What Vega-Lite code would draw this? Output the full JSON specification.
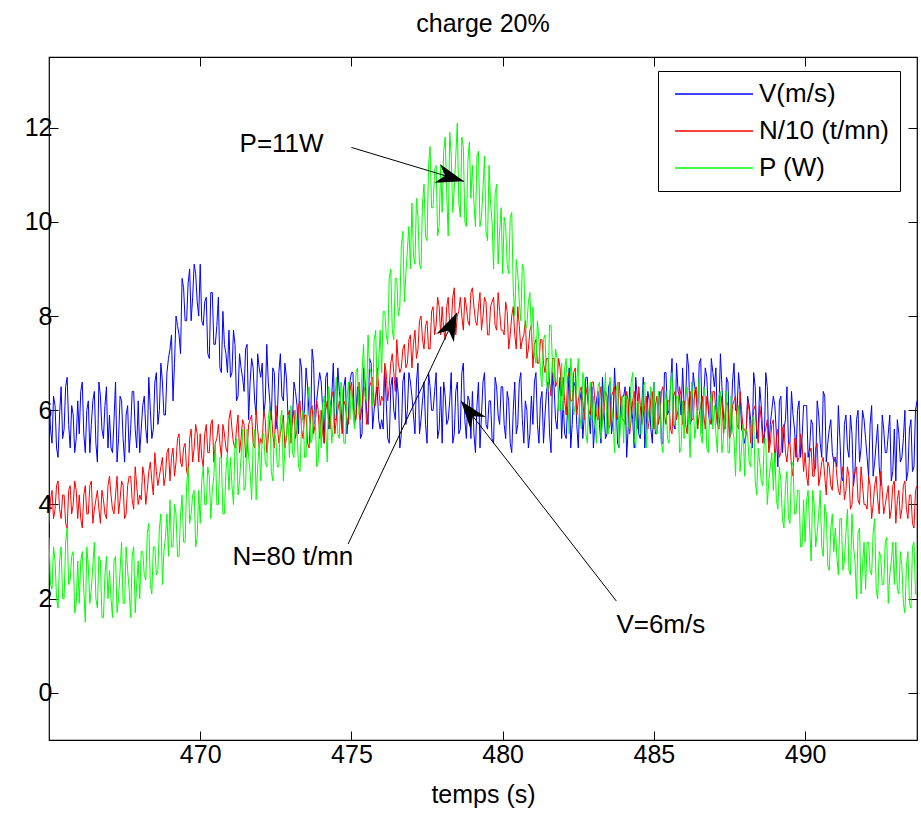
{
"$schema": "https://vega.github.io/schema/vega-lite/v6.json",
"autosize": "none",
"width": 868,
"height": 683,
"padding": {"left": 49, "top": 57, "right": 4, "bottom": 81},
"background": "white",
"title": {"text": "charge 20%", "font": "Liberation Sans", "fontSize": 25, "fontWeight": "normal", "color": "black", "offset": 20},
"config": {"view": {"stroke": "black", "strokeWidth": 1.2}},
"resolve": {"axis": {"x": "independent", "y": "independent"}},
"datasets": {
"s": [
{"t":465.0,"v":6.4,"n":3.6,"p":3.3},{"t":465.05,"v":5.6,"n":4.1,"p":2.3},{"t":465.1,"v":5.3,"n":4.3,"p":2.2},{"t":465.15,"v":6.3,"n":3.7,"p":3.1},{"t":465.2,"v":6.1,"n":3.9,"p":2.8},{"t":465.25,"v":5.2,"n":4.4,"p":2.0},{"t":465.3,"v":5.0,"n":4.5,"p":1.8},{"t":465.35,"v":5.9,"n":3.9,"p":2.8},{"t":465.4,"v":6.5,"n":3.7,"p":3.1},{"t":465.45,"v":5.4,"n":4.2,"p":2.0},{"t":465.5,"v":5.6,"n":4.2,"p":2.0},{"t":465.55,"v":6.5,"n":3.6,"p":3.2},{"t":465.6,"v":6.7,"n":3.5,"p":3.5},{"t":465.65,"v":5.7,"n":4.3,"p":2.3},{"t":465.7,"v":5.2,"n":4.4,"p":2.4},{"t":465.75,"v":6.1,"n":3.8,"p":2.9},{"t":465.8,"v":5.9,"n":4.0,"p":3.0},{"t":465.85,"v":5.1,"n":4.5,"p":1.7},{"t":465.9,"v":5.4,"n":4.3,"p":1.9},{"t":465.95,"v":6.2,"n":3.7,"p":2.8},
{"t":466.0,"v":5.5,"n":4.2,"p":1.9},{"t":466.05,"v":6.4,"n":3.7,"p":2.8},{"t":466.1,"v":6.6,"n":3.5,"p":3.0},{"t":466.15,"v":5.5,"n":4.2,"p":2.2},{"t":466.2,"v":5.1,"n":4.4,"p":1.5},{"t":466.25,"v":6.0,"n":3.8,"p":3.1},{"t":466.3,"v":6.2,"n":3.8,"p":2.7},{"t":466.35,"v":5.1,"n":4.4,"p":1.9},{"t":466.4,"v":5.7,"n":4.5,"p":2.2},{"t":466.45,"v":6.2,"n":3.6,"p":2.7},{"t":466.5,"v":6.4,"n":3.9,"p":3.2},{"t":466.55,"v":5.3,"n":4.1,"p":2.0},{"t":466.6,"v":4.9,"n":4.3,"p":1.8},{"t":466.65,"v":6.6,"n":3.9,"p":2.9},{"t":466.7,"v":6.3,"n":3.6,"p":2.8},{"t":466.75,"v":5.6,"n":4.3,"p":1.6},{"t":466.8,"v":5.4,"n":4.1,"p":1.6},{"t":466.85,"v":6.1,"n":3.8,"p":2.5},{"t":466.9,"v":6.5,"n":3.7,"p":2.9},{"t":466.95,"v":5.2,"n":4.4,"p":2.0},
{"t":467.0,"v":5.9,"n":4.6,"p":2.6},{"t":467.05,"v":5.2,"n":4.2,"p":2.0},{"t":467.1,"v":5.1,"n":3.9,"p":1.6},{"t":467.15,"v":5.8,"n":3.8,"p":2.8},{"t":467.2,"v":6.6,"n":4.2,"p":2.9},{"t":467.25,"v":4.9,"n":4.6,"p":1.7},{"t":467.3,"v":5.4,"n":3.8,"p":2.0},{"t":467.35,"v":6.3,"n":4.1,"p":2.6},{"t":467.4,"v":6.2,"n":4.5,"p":3.2},{"t":467.45,"v":5.4,"n":4.4,"p":1.9},{"t":467.5,"v":4.9,"n":3.7,"p":1.9},{"t":467.55,"v":5.9,"n":3.8,"p":3.1},{"t":467.6,"v":6.1,"n":4.4,"p":2.6},{"t":467.65,"v":5.1,"n":4.6,"p":2.2},{"t":467.7,"v":5.6,"n":4.6,"p":1.6},{"t":467.75,"v":6.4,"n":4.1,"p":2.9},{"t":467.8,"v":6.4,"n":3.9,"p":3.1},{"t":467.85,"v":5.6,"n":4.8,"p":1.7},{"t":467.9,"v":5.2,"n":4.4,"p":2.3},{"t":467.95,"v":6.2,"n":4.0,"p":2.8},
{"t":468.0,"v":5.1,"n":4.2,"p":2.0},{"t":468.05,"v":5.6,"n":4.1,"p":3.0},{"t":468.1,"v":6.1,"n":4.8,"p":3.0},{"t":468.15,"v":6.3,"n":4.6,"p":2.5},{"t":468.2,"v":5.6,"n":4.0,"p":2.4},{"t":468.25,"v":5.3,"n":4.3,"p":3.4},{"t":468.3,"v":6.7,"n":4.7,"p":3.6},{"t":468.35,"v":6.0,"n":4.9,"p":2.3},{"t":468.4,"v":5.4,"n":4.5,"p":2.1},{"t":468.45,"v":5.6,"n":4.2,"p":3.1},{"t":468.5,"v":6.6,"n":5.1,"p":3.1},{"t":468.55,"v":6.8,"n":4.7,"p":2.5},{"t":468.6,"v":5.7,"n":4.4,"p":2.6},{"t":468.65,"v":6.0,"n":4.6,"p":3.5},{"t":468.7,"v":7.0,"n":4.8,"p":3.8},{"t":468.75,"v":6.6,"n":5.0,"p":2.3},{"t":468.8,"v":5.9,"n":4.4,"p":3.0},{"t":468.85,"v":5.9,"n":4.6,"p":3.3},{"t":468.9,"v":6.8,"n":5.1,"p":3.8},{"t":468.95,"v":7.1,"n":5.2,"p":2.9},
{"t":469.0,"v":7.3,"n":4.5,"p":4.1},{"t":469.05,"v":7.6,"n":5.0,"p":3.1},{"t":469.1,"v":6.2,"n":5.2,"p":3.1},{"t":469.15,"v":7.0,"n":4.6,"p":4.0},{"t":469.2,"v":8.0,"n":4.9,"p":3.8},{"t":469.25,"v":7.8,"n":5.4,"p":2.9},{"t":469.3,"v":7.6,"n":5.5,"p":2.9},{"t":469.35,"v":7.2,"n":4.9,"p":3.8},{"t":469.4,"v":8.8,"n":4.8,"p":4.2},{"t":469.45,"v":8.6,"n":5.2,"p":3.2},{"t":469.5,"v":7.9,"n":5.3,"p":3.2},{"t":469.55,"v":7.9,"n":4.7,"p":4.4},{"t":469.6,"v":8.7,"n":4.6,"p":4.8},{"t":469.65,"v":9.0,"n":5.4,"p":3.6},{"t":469.7,"v":7.9,"n":5.6,"p":3.8},{"t":469.75,"v":8.4,"n":4.9,"p":4.2},{"t":469.8,"v":9.1,"n":5.2,"p":4.3},{"t":469.85,"v":8.9,"n":5.7,"p":3.1},{"t":469.9,"v":8.3,"n":5.5,"p":3.3},{"t":469.95,"v":8.0,"n":4.9,"p":4.3},
{"t":470.0,"v":9.1,"n":5.5,"p":3.6},{"t":470.05,"v":7.9,"n":5.0,"p":4.5},{"t":470.1,"v":7.8,"n":4.8,"p":4.8},{"t":470.15,"v":8.3,"n":5.5,"p":4.0},{"t":470.2,"v":8.4,"n":5.7,"p":4.0},{"t":470.25,"v":7.2,"n":5.1,"p":4.8},{"t":470.3,"v":7.1,"n":5.1,"p":4.6},{"t":470.35,"v":8.5,"n":5.7,"p":3.7},{"t":470.4,"v":8.5,"n":5.8,"p":4.3},{"t":470.45,"v":7.4,"n":4.9,"p":4.6},{"t":470.5,"v":7.4,"n":5.3,"p":5.3},{"t":470.55,"v":7.8,"n":5.4,"p":4.0},{"t":470.6,"v":8.4,"n":5.7,"p":4.0},{"t":470.65,"v":6.9,"n":5.3,"p":5.0},{"t":470.7,"v":6.8,"n":5.0,"p":5.0},{"t":470.75,"v":8.1,"n":5.7,"p":3.8},{"t":470.8,"v":7.4,"n":5.5,"p":3.8},{"t":470.85,"v":7.2,"n":5.2,"p":4.7},{"t":470.9,"v":6.8,"n":5.1,"p":5.1},{"t":470.95,"v":7.7,"n":5.8,"p":4.3},
{"t":471.0,"v":6.7,"n":6.0,"p":5.0},{"t":471.05,"v":6.8,"n":5.6,"p":4.4},{"t":471.1,"v":7.7,"n":5.3,"p":4.0},{"t":471.15,"v":7.4,"n":5.2,"p":5.3},{"t":471.2,"v":6.2,"n":5.6,"p":5.4},{"t":471.25,"v":6.3,"n":5.9,"p":4.2},{"t":471.3,"v":7.2,"n":5.1,"p":4.5},{"t":471.35,"v":6.9,"n":5.4,"p":5.0},{"t":471.4,"v":6.7,"n":5.8,"p":5.6},{"t":471.45,"v":6.4,"n":5.7,"p":4.3},{"t":471.5,"v":7.3,"n":5.0,"p":4.4},{"t":471.55,"v":7.4,"n":5.1,"p":5.6},{"t":471.6,"v":5.8,"n":5.7,"p":5.0},{"t":471.65,"v":6.6,"n":5.8,"p":4.7},{"t":471.7,"v":7.1,"n":5.9,"p":4.1},{"t":471.75,"v":6.9,"n":5.3,"p":5.3},{"t":471.8,"v":6.2,"n":5.2,"p":5.6},{"t":471.85,"v":5.9,"n":6.0,"p":4.1},{"t":471.9,"v":7.2,"n":5.6,"p":4.8},{"t":471.95,"v":6.9,"n":5.2,"p":5.3},
{"t":472.0,"v":6.7,"n":5.4,"p":4.5},{"t":472.05,"v":7.0,"n":5.3,"p":5.5},{"t":472.1,"v":5.9,"n":6.0,"p":5.5},{"t":472.15,"v":6.2,"n":5.8,"p":4.9},{"t":472.2,"v":7.4,"n":5.1,"p":4.8},{"t":472.25,"v":6.6,"n":5.4,"p":5.8},{"t":472.3,"v":6.2,"n":5.8,"p":6.1},{"t":472.35,"v":5.8,"n":6.0,"p":4.7},{"t":472.4,"v":6.9,"n":5.5,"p":4.5},{"t":472.45,"v":6.8,"n":5.2,"p":5.5},{"t":472.5,"v":5.6,"n":6.1,"p":5.4},{"t":472.55,"v":5.9,"n":5.7,"p":4.8},{"t":472.6,"v":6.8,"n":5.3,"p":4.8},{"t":472.65,"v":7.2,"n":5.5,"p":5.8},{"t":472.7,"v":6.3,"n":5.7,"p":6.0},{"t":472.75,"v":6.2,"n":5.9,"p":4.5},{"t":472.8,"v":7.0,"n":5.2,"p":5.2},{"t":472.85,"v":6.7,"n":5.4,"p":5.5},{"t":472.9,"v":5.9,"n":5.9,"p":5.9},{"t":472.95,"v":5.8,"n":6.0,"p":5.0},
{"t":473.0,"v":5.6,"n":5.3,"p":6.1},{"t":473.05,"v":5.8,"n":5.8,"p":5.1},{"t":473.1,"v":6.6,"n":6.0,"p":5.0},{"t":473.15,"v":6.4,"n":5.4,"p":6.0},{"t":473.2,"v":6.1,"n":5.6,"p":5.6},{"t":473.25,"v":5.5,"n":6.1,"p":4.8},{"t":473.3,"v":7.1,"n":6.2,"p":4.7},{"t":473.35,"v":6.9,"n":5.6,"p":5.7},{"t":473.4,"v":5.8,"n":5.4,"p":6.0},{"t":473.45,"v":6.0,"n":5.9,"p":5.0},{"t":473.5,"v":6.9,"n":5.9,"p":5.0},{"t":473.55,"v":6.5,"n":5.3,"p":6.2},{"t":473.6,"v":5.9,"n":5.2,"p":6.5},{"t":473.65,"v":5.7,"n":6.0,"p":5.3},{"t":473.7,"v":7.3,"n":6.1,"p":5.4},{"t":473.75,"v":7.0,"n":5.5,"p":6.0},{"t":473.8,"v":5.7,"n":5.7,"p":6.0},{"t":473.85,"v":6.2,"n":6.2,"p":4.8},{"t":473.9,"v":6.5,"n":6.0,"p":4.9},{"t":473.95,"v":6.8,"n":5.4,"p":5.9},
{"t":474.0,"v":6.6,"n":6.0,"p":5.2},{"t":474.05,"v":6.0,"n":5.5,"p":6.1},{"t":474.1,"v":5.3,"n":5.3,"p":6.3},{"t":474.15,"v":6.7,"n":6.0,"p":5.6},{"t":474.2,"v":6.8,"n":6.2,"p":4.9},{"t":474.25,"v":5.6,"n":5.7,"p":6.5},{"t":474.3,"v":6.1,"n":5.6,"p":6.1},{"t":474.35,"v":6.3,"n":6.3,"p":5.3},{"t":474.4,"v":7.0,"n":6.4,"p":5.7},{"t":474.45,"v":5.8,"n":5.5,"p":6.2},{"t":474.5,"v":5.8,"n":5.8,"p":6.7},{"t":474.55,"v":6.9,"n":6.0,"p":5.5},{"t":474.6,"v":6.4,"n":6.2,"p":5.4},{"t":474.65,"v":6.1,"n":5.8,"p":6.6},{"t":474.7,"v":5.5,"n":5.5,"p":6.4},{"t":474.75,"v":6.5,"n":6.2,"p":5.3},{"t":474.8,"v":6.7,"n":6.1,"p":5.3},{"t":474.85,"v":5.5,"n":5.8,"p":6.2},{"t":474.9,"v":5.9,"n":5.7,"p":6.6},{"t":474.95,"v":6.6,"n":6.4,"p":5.8},
{"t":475.0,"v":6.8,"n":6.6,"p":6.5},{"t":475.05,"v":6.8,"n":6.2,"p":6.0},{"t":475.1,"v":5.7,"n":5.9,"p":5.6},{"t":475.15,"v":5.9,"n":5.8,"p":6.8},{"t":475.2,"v":6.5,"n":6.3,"p":6.9},{"t":475.25,"v":6.4,"n":6.6,"p":5.9},{"t":475.3,"v":5.4,"n":5.8,"p":6.2},{"t":475.35,"v":5.5,"n":6.1,"p":6.8},{"t":475.4,"v":6.9,"n":6.5,"p":7.4},{"t":475.45,"v":6.6,"n":6.4,"p":6.3},{"t":475.5,"v":6.0,"n":5.7,"p":6.2},{"t":475.55,"v":5.7,"n":5.9,"p":7.6},{"t":475.6,"v":7.1,"n":6.5,"p":6.9},{"t":475.65,"v":7.0,"n":6.6,"p":6.8},{"t":475.7,"v":5.6,"n":6.7,"p":6.1},{"t":475.75,"v":6.0,"n":6.1,"p":7.5},{"t":475.8,"v":6.3,"n":6.1,"p":7.7},{"t":475.85,"v":6.5,"n":6.9,"p":6.5},{"t":475.9,"v":5.8,"n":6.5,"p":7.0},{"t":475.95,"v":5.6,"n":6.1,"p":7.7},
{"t":476.0,"v":5.8,"n":6.3,"p":6.8},{"t":476.05,"v":5.6,"n":6.2,"p":8.1},{"t":476.1,"v":6.9,"n":7.0,"p":8.1},{"t":476.15,"v":6.2,"n":6.8,"p":7.6},{"t":476.2,"v":5.4,"n":6.2,"p":7.4},{"t":476.25,"v":5.3,"n":6.5,"p":8.8},{"t":476.3,"v":6.5,"n":7.0,"p":9.0},{"t":476.35,"v":6.7,"n":7.2,"p":7.7},{"t":476.4,"v":6.0,"n":6.8,"p":7.5},{"t":476.45,"v":5.8,"n":6.4,"p":8.8},{"t":476.5,"v":6.7,"n":7.5,"p":8.8},{"t":476.55,"v":6.3,"n":7.0,"p":8.0},{"t":476.6,"v":5.2,"n":6.8,"p":8.2},{"t":476.65,"v":5.5,"n":6.9,"p":9.5},{"t":476.7,"v":6.6,"n":7.3,"p":9.8},{"t":476.75,"v":6.8,"n":7.4,"p":8.3},{"t":476.8,"v":5.7,"n":6.9,"p":8.9},{"t":476.85,"v":6.0,"n":7.0,"p":9.4},{"t":476.9,"v":6.8,"n":7.5,"p":9.9},{"t":476.95,"v":6.6,"n":7.6,"p":9.0},
{"t":477.0,"v":6.3,"n":6.9,"p":10.4},{"t":477.05,"v":5.9,"n":7.4,"p":9.3},{"t":477.1,"v":5.5,"n":7.7,"p":9.1},{"t":477.15,"v":6.6,"n":7.1,"p":10.5},{"t":477.2,"v":7.0,"n":7.3,"p":10.1},{"t":477.25,"v":5.5,"n":7.9,"p":9.1},{"t":477.3,"v":5.8,"n":8.0,"p":9.0},{"t":477.35,"v":6.2,"n":7.5,"p":10.4},{"t":477.4,"v":6.6,"n":7.3,"p":10.8},{"t":477.45,"v":5.7,"n":7.8,"p":9.7},{"t":477.5,"v":5.3,"n":7.9,"p":9.6},{"t":477.55,"v":6.8,"n":7.3,"p":11.2},{"t":477.6,"v":6.5,"n":7.3,"p":11.6},{"t":477.65,"v":6.0,"n":8.1,"p":10.3},{"t":477.7,"v":6.0,"n":8.2,"p":10.3},{"t":477.75,"v":6.4,"n":7.6,"p":11.1},{"t":477.8,"v":6.8,"n":7.8,"p":11.2},{"t":477.85,"v":5.4,"n":8.4,"p":9.7},{"t":477.9,"v":5.6,"n":8.2,"p":9.9},{"t":477.95,"v":6.5,"n":7.6,"p":11.2},
{"t":478.0,"v":5.3,"n":8.2,"p":10.2},{"t":478.05,"v":6.6,"n":7.7,"p":11.5},{"t":478.1,"v":6.3,"n":7.5,"p":11.8},{"t":478.15,"v":5.7,"n":8.2,"p":10.6},{"t":478.2,"v":5.8,"n":8.4,"p":9.7},{"t":478.25,"v":6.2,"n":7.8,"p":11.9},{"t":478.3,"v":6.8,"n":7.8,"p":11.4},{"t":478.35,"v":5.3,"n":8.4,"p":10.2},{"t":478.4,"v":5.5,"n":8.6,"p":10.7},{"t":478.45,"v":6.4,"n":7.6,"p":11.4},{"t":478.5,"v":6.6,"n":8.0,"p":12.1},{"t":478.55,"v":5.5,"n":8.1,"p":10.4},{"t":478.6,"v":5.6,"n":8.4,"p":10.1},{"t":478.65,"v":6.8,"n":8.0,"p":11.8},{"t":478.7,"v":7.0,"n":7.7,"p":11.6},{"t":478.75,"v":5.8,"n":8.4,"p":10.0},{"t":478.8,"v":5.4,"n":8.2,"p":9.9},{"t":478.85,"v":6.3,"n":7.9,"p":11.3},{"t":478.9,"v":6.2,"n":7.8,"p":11.7},{"t":478.95,"v":5.4,"n":8.5,"p":10.5},
{"t":479.0,"v":6.4,"n":8.6,"p":11.2},{"t":479.05,"v":5.5,"n":8.2,"p":10.4},{"t":479.1,"v":5.1,"n":7.9,"p":9.9},{"t":479.15,"v":6.1,"n":7.8,"p":11.4},{"t":479.2,"v":6.6,"n":8.2,"p":11.5},{"t":479.25,"v":5.2,"n":8.5,"p":9.9},{"t":479.3,"v":5.9,"n":7.7,"p":10.1},{"t":479.35,"v":6.6,"n":8.0,"p":10.7},{"t":479.4,"v":6.8,"n":8.4,"p":11.4},{"t":479.45,"v":5.7,"n":8.3,"p":9.8},{"t":479.5,"v":5.6,"n":7.6,"p":9.6},{"t":479.55,"v":6.2,"n":7.6,"p":11.2},{"t":479.6,"v":6.2,"n":8.2,"p":10.4},{"t":479.65,"v":5.4,"n":8.3,"p":10.0},{"t":479.7,"v":5.3,"n":8.4,"p":9.0},{"t":479.75,"v":6.7,"n":7.8,"p":10.6},{"t":479.8,"v":6.5,"n":7.7,"p":10.8},{"t":479.85,"v":5.9,"n":8.5,"p":9.1},{"t":479.9,"v":5.7,"n":8.1,"p":9.8},{"t":479.95,"v":6.5,"n":7.7,"p":10.3},
{"t":480.0,"v":6.5,"n":7.7,"p":8.9},{"t":480.05,"v":5.7,"n":7.6,"p":10.1},{"t":480.1,"v":5.4,"n":8.3,"p":9.9},{"t":480.15,"v":6.4,"n":8.1,"p":9.1},{"t":480.2,"v":6.2,"n":7.3,"p":8.9},{"t":480.25,"v":5.3,"n":7.6,"p":10.1},{"t":480.3,"v":5.1,"n":8.0,"p":10.2},{"t":480.35,"v":6.0,"n":8.2,"p":8.6},{"t":480.4,"v":6.6,"n":7.6,"p":8.0},{"t":480.45,"v":5.5,"n":7.3,"p":9.2},{"t":480.5,"v":5.7,"n":8.2,"p":8.9},{"t":480.55,"v":6.6,"n":7.8,"p":8.3},{"t":480.6,"v":6.8,"n":7.3,"p":7.9},{"t":480.65,"v":5.8,"n":7.5,"p":9.1},{"t":480.7,"v":5.3,"n":7.6,"p":9.0},{"t":480.75,"v":6.2,"n":7.9,"p":7.7},{"t":480.8,"v":6.0,"n":7.1,"p":7.8},{"t":480.85,"v":5.2,"n":7.3,"p":8.3},{"t":480.9,"v":5.5,"n":7.7,"p":8.5},{"t":480.95,"v":6.3,"n":7.8,"p":7.6},
{"t":481.0,"v":5.7,"n":6.9,"p":8.2},{"t":481.05,"v":6.6,"n":7.4,"p":7.2},{"t":481.1,"v":6.8,"n":7.5,"p":7.0},{"t":481.15,"v":5.7,"n":7.0,"p":7.9},{"t":481.2,"v":5.3,"n":7.0,"p":7.5},{"t":481.25,"v":6.2,"n":7.5,"p":6.8},{"t":481.3,"v":6.4,"n":7.5,"p":6.5},{"t":481.35,"v":5.3,"n":7.0,"p":7.5},{"t":481.4,"v":5.9,"n":6.8,"p":7.6},{"t":481.45,"v":6.4,"n":7.1,"p":6.6},{"t":481.5,"v":6.6,"n":7.1,"p":6.4},{"t":481.55,"v":5.5,"n":6.6,"p":7.8},{"t":481.6,"v":5.1,"n":6.3,"p":7.8},{"t":481.65,"v":6.8,"n":7.1,"p":6.9},{"t":481.7,"v":6.5,"n":7.1,"p":6.6},{"t":481.75,"v":5.8,"n":6.5,"p":7.3},{"t":481.8,"v":5.6,"n":6.6,"p":7.1},{"t":481.85,"v":6.3,"n":7.1,"p":6.0},{"t":481.9,"v":6.7,"n":6.9,"p":6.0},{"t":481.95,"v":5.4,"n":6.3,"p":7.0},
{"t":482.0,"v":6.2,"n":6.7,"p":6.0},{"t":482.05,"v":5.5,"n":6.2,"p":6.9},{"t":482.1,"v":5.4,"n":5.9,"p":7.1},{"t":482.15,"v":6.1,"n":6.7,"p":6.3},{"t":482.2,"v":6.9,"n":6.8,"p":5.5},{"t":482.25,"v":5.2,"n":6.2,"p":7.1},{"t":482.3,"v":5.7,"n":6.2,"p":6.7},{"t":482.35,"v":6.6,"n":6.8,"p":5.9},{"t":482.4,"v":6.5,"n":6.9,"p":6.1},{"t":482.45,"v":5.7,"n":5.9,"p":6.6},{"t":482.5,"v":5.2,"n":6.2,"p":7.1},{"t":482.55,"v":6.2,"n":6.4,"p":5.9},{"t":482.6,"v":6.4,"n":6.5,"p":5.6},{"t":482.65,"v":5.4,"n":6.2,"p":6.8},{"t":482.7,"v":5.9,"n":5.8,"p":6.6},{"t":482.75,"v":6.7,"n":6.5,"p":5.5},{"t":482.8,"v":6.7,"n":6.3,"p":5.3},{"t":482.85,"v":5.9,"n":6.0,"p":6.3},{"t":482.9,"v":5.5,"n":5.9,"p":6.6},{"t":482.95,"v":6.5,"n":6.6,"p":5.8},
{"t":483.0,"v":5.2,"n":6.6,"p":6.3},{"t":483.05,"v":5.7,"n":6.2,"p":5.7},{"t":483.1,"v":6.2,"n":5.9,"p":5.3},{"t":483.15,"v":6.4,"n":5.8,"p":6.5},{"t":483.2,"v":5.7,"n":6.2,"p":6.6},{"t":483.25,"v":5.3,"n":6.5,"p":5.4},{"t":483.3,"v":6.7,"n":5.7,"p":5.7},{"t":483.35,"v":6.0,"n":6.0,"p":6.2},{"t":483.4,"v":5.4,"n":6.4,"p":6.8},{"t":483.45,"v":5.5,"n":6.3,"p":5.5},{"t":483.5,"v":6.5,"n":5.6,"p":5.5},{"t":483.55,"v":6.6,"n":5.7,"p":6.7},{"t":483.6,"v":5.5,"n":6.3,"p":6.1},{"t":483.65,"v":5.8,"n":6.4,"p":5.8},{"t":483.7,"v":6.9,"n":6.5,"p":5.1},{"t":483.75,"v":6.2,"n":5.9,"p":6.4},{"t":483.8,"v":5.3,"n":5.8,"p":6.6},{"t":483.85,"v":5.2,"n":6.6,"p":5.2},{"t":483.9,"v":6.1,"n":6.2,"p":5.8},{"t":483.95,"v":6.3,"n":5.8,"p":6.3},
{"t":484.0,"v":6.3,"n":5.8,"p":5.3},{"t":484.05,"v":6.5,"n":5.7,"p":6.3},{"t":484.1,"v":5.0,"n":6.4,"p":6.3},{"t":484.15,"v":5.6,"n":6.2,"p":5.7},{"t":484.2,"v":6.5,"n":5.5,"p":5.6},{"t":484.25,"v":6.1,"n":5.8,"p":6.6},{"t":484.3,"v":5.8,"n":6.2,"p":6.8},{"t":484.35,"v":5.2,"n":6.4,"p":5.4},{"t":484.4,"v":6.7,"n":5.9,"p":5.2},{"t":484.45,"v":6.3,"n":5.6,"p":6.2},{"t":484.5,"v":5.5,"n":6.5,"p":6.1},{"t":484.55,"v":5.4,"n":6.1,"p":5.5},{"t":484.6,"v":6.1,"n":5.7,"p":5.5},{"t":484.65,"v":6.7,"n":5.9,"p":6.5},{"t":484.7,"v":5.2,"n":6.1,"p":6.6},{"t":484.75,"v":5.7,"n":6.3,"p":5.2},{"t":484.8,"v":6.4,"n":5.6,"p":5.8},{"t":484.85,"v":6.2,"n":5.8,"p":6.1},{"t":484.9,"v":5.6,"n":6.3,"p":6.5},{"t":484.95,"v":5.3,"n":6.4,"p":5.6},
{"t":485.0,"v":6.6,"n":5.6,"p":6.6},{"t":485.05,"v":5.5,"n":6.1,"p":5.6},{"t":485.1,"v":5.5,"n":6.3,"p":5.5},{"t":485.15,"v":6.2,"n":5.7,"p":6.4},{"t":485.2,"v":6.4,"n":5.9,"p":6.1},{"t":485.25,"v":5.3,"n":6.4,"p":5.3},{"t":485.3,"v":5.3,"n":6.5,"p":5.1},{"t":485.35,"v":6.8,"n":5.9,"p":6.1},{"t":485.4,"v":6.8,"n":5.7,"p":6.4},{"t":485.45,"v":5.9,"n":6.2,"p":5.4},{"t":485.5,"v":6.0,"n":6.2,"p":5.3},{"t":485.55,"v":6.5,"n":5.6,"p":6.6},{"t":485.6,"v":7.1,"n":5.5,"p":6.8},{"t":485.65,"v":5.7,"n":6.3,"p":5.7},{"t":485.7,"v":5.6,"n":6.4,"p":5.7},{"t":485.75,"v":7.0,"n":5.8,"p":6.3},{"t":485.8,"v":6.4,"n":6.0,"p":6.3},{"t":485.85,"v":6.3,"n":6.5,"p":5.1},{"t":485.9,"v":5.9,"n":6.3,"p":5.2},{"t":485.95,"v":6.9,"n":5.7,"p":6.2},
{"t":486.0,"v":6.1,"n":6.2,"p":5.4},{"t":486.05,"v":6.2,"n":5.7,"p":6.3},{"t":486.1,"v":7.2,"n":5.5,"p":6.5},{"t":486.15,"v":6.9,"n":6.2,"p":5.7},{"t":486.2,"v":5.7,"n":6.4,"p":5.0},{"t":486.25,"v":5.8,"n":5.8,"p":6.6},{"t":486.3,"v":6.8,"n":5.8,"p":6.2},{"t":486.35,"v":6.5,"n":6.4,"p":5.4},{"t":486.4,"v":6.3,"n":6.5,"p":5.7},{"t":486.45,"v":6.0,"n":5.6,"p":6.2},{"t":486.5,"v":7.0,"n":5.9,"p":6.7},{"t":486.55,"v":7.1,"n":6.1,"p":5.5},{"t":486.6,"v":5.5,"n":6.3,"p":5.3},{"t":486.65,"v":6.3,"n":5.9,"p":6.5},{"t":486.7,"v":6.9,"n":5.6,"p":6.3},{"t":486.75,"v":6.7,"n":6.3,"p":5.2},{"t":486.8,"v":6.0,"n":6.1,"p":5.1},{"t":486.85,"v":5.7,"n":5.8,"p":6.1},{"t":486.9,"v":7.1,"n":5.7,"p":6.4},{"t":486.95,"v":6.8,"n":6.4,"p":5.6},
{"t":487.0,"v":6.5,"n":6.4,"p":6.1},{"t":487.05,"v":6.9,"n":6.0,"p":5.5},{"t":487.1,"v":5.7,"n":5.7,"p":5.1},{"t":487.15,"v":6.0,"n":5.6,"p":6.3},{"t":487.2,"v":7.2,"n":6.0,"p":6.4},{"t":487.25,"v":6.5,"n":6.3,"p":5.1},{"t":487.3,"v":5.9,"n":5.5,"p":5.4},{"t":487.35,"v":5.6,"n":5.8,"p":5.9},{"t":487.4,"v":6.7,"n":6.2,"p":6.4},{"t":487.45,"v":6.6,"n":6.1,"p":5.1},{"t":487.5,"v":5.4,"n":5.4,"p":5.1},{"t":487.55,"v":5.7,"n":5.5,"p":6.3},{"t":487.6,"v":6.6,"n":6.1,"p":5.6},{"t":487.65,"v":7.0,"n":6.2,"p":5.4},{"t":487.7,"v":6.0,"n":6.3,"p":4.6},{"t":487.75,"v":6.0,"n":5.7,"p":5.9},{"t":487.8,"v":6.8,"n":5.6,"p":6.1},{"t":487.85,"v":6.4,"n":6.4,"p":4.7},{"t":487.9,"v":5.6,"n":6.0,"p":5.2},{"t":487.95,"v":5.5,"n":5.6,"p":5.7},
{"t":488.0,"v":5.3,"n":5.6,"p":4.6},{"t":488.05,"v":5.5,"n":5.5,"p":5.6},{"t":488.1,"v":6.3,"n":6.2,"p":5.5},{"t":488.15,"v":6.1,"n":6.0,"p":4.9},{"t":488.2,"v":5.8,"n":5.3,"p":4.8},{"t":488.25,"v":5.2,"n":5.5,"p":5.8},{"t":488.3,"v":6.8,"n":6.0,"p":5.9},{"t":488.35,"v":6.5,"n":6.1,"p":4.5},{"t":488.4,"v":5.4,"n":5.6,"p":4.2},{"t":488.45,"v":5.6,"n":5.3,"p":5.2},{"t":488.5,"v":6.5,"n":6.1,"p":4.9},{"t":488.55,"v":6.1,"n":5.8,"p":4.5},{"t":488.6,"v":5.5,"n":5.3,"p":4.4},{"t":488.65,"v":5.3,"n":5.5,"p":5.4},{"t":488.7,"v":6.8,"n":5.6,"p":5.4},{"t":488.75,"v":6.5,"n":5.8,"p":4.0},{"t":488.8,"v":5.2,"n":5.1,"p":4.5},{"t":488.85,"v":5.7,"n":5.3,"p":4.8},{"t":488.9,"v":6.0,"n":5.7,"p":5.1},{"t":488.95,"v":6.3,"n":5.8,"p":4.3},
{"t":489.0,"v":6.1,"n":4.9,"p":5.1},{"t":489.05,"v":5.5,"n":5.4,"p":4.1},{"t":489.1,"v":4.8,"n":5.6,"p":3.9},{"t":489.15,"v":6.2,"n":5.0,"p":4.8},{"t":489.2,"v":6.3,"n":5.1,"p":4.5},{"t":489.25,"v":5.1,"n":5.6,"p":3.7},{"t":489.3,"v":5.6,"n":5.7,"p":3.5},{"t":489.35,"v":5.8,"n":5.1,"p":4.4},{"t":489.4,"v":6.5,"n":4.9,"p":4.7},{"t":489.45,"v":5.3,"n":5.3,"p":3.7},{"t":489.5,"v":5.3,"n":5.3,"p":3.6},{"t":489.55,"v":6.4,"n":4.8,"p":4.8},{"t":489.6,"v":5.9,"n":4.6,"p":4.9},{"t":489.65,"v":5.6,"n":5.4,"p":3.8},{"t":489.7,"v":5.0,"n":5.4,"p":3.8},{"t":489.75,"v":6.0,"n":4.9,"p":4.3},{"t":489.8,"v":6.2,"n":5.0,"p":4.3},{"t":489.85,"v":5.0,"n":5.5,"p":3.1},{"t":489.9,"v":5.4,"n":5.3,"p":3.1},{"t":489.95,"v":6.1,"n":4.7,"p":4.1},
{"t":490.0,"v":6.1,"n":5.1,"p":3.2},{"t":490.05,"v":6.1,"n":4.6,"p":4.1},{"t":490.1,"v":5.0,"n":4.4,"p":4.3},{"t":490.15,"v":5.2,"n":5.1,"p":3.5},{"t":490.2,"v":5.8,"n":5.2,"p":2.8},{"t":490.25,"v":5.7,"n":4.6,"p":4.3},{"t":490.3,"v":4.7,"n":4.6,"p":4.0},{"t":490.35,"v":4.8,"n":5.2,"p":3.1},{"t":490.4,"v":6.2,"n":5.3,"p":3.4},{"t":490.45,"v":5.9,"n":4.4,"p":3.8},{"t":490.5,"v":5.3,"n":4.6,"p":4.3},{"t":490.55,"v":5.0,"n":4.9,"p":3.1},{"t":490.6,"v":6.4,"n":5.0,"p":2.9},{"t":490.65,"v":6.3,"n":4.6,"p":4.0},{"t":490.7,"v":4.9,"n":4.2,"p":3.8},{"t":490.75,"v":5.3,"n":4.9,"p":2.7},{"t":490.8,"v":5.6,"n":4.8,"p":2.6},{"t":490.85,"v":5.8,"n":4.4,"p":3.5},{"t":490.9,"v":5.1,"n":4.3,"p":3.8},{"t":490.95,"v":4.9,"n":5.0,"p":3.0},
{"t":491.0,"v":5.0,"n":5.0,"p":3.5},{"t":491.05,"v":4.8,"n":4.6,"p":2.9},{"t":491.1,"v":6.1,"n":4.3,"p":2.5},{"t":491.15,"v":5.4,"n":4.2,"p":3.7},{"t":491.2,"v":4.6,"n":4.6,"p":3.7},{"t":491.25,"v":4.5,"n":4.8,"p":2.6},{"t":491.3,"v":5.7,"n":4.1,"p":2.8},{"t":491.35,"v":5.9,"n":4.3,"p":3.4},{"t":491.4,"v":5.2,"n":4.8,"p":3.9},{"t":491.45,"v":5.0,"n":4.6,"p":2.6},{"t":491.5,"v":5.9,"n":3.9,"p":2.5},{"t":491.55,"v":5.5,"n":4.0,"p":3.8},{"t":491.6,"v":4.4,"n":4.6,"p":3.1},{"t":491.65,"v":4.7,"n":4.7,"p":2.8},{"t":491.7,"v":5.8,"n":4.8,"p":2.0},{"t":491.75,"v":6.0,"n":4.1,"p":3.4},{"t":491.8,"v":4.9,"n":4.0,"p":3.5},{"t":491.85,"v":5.2,"n":4.8,"p":2.1},{"t":491.9,"v":6.0,"n":4.4,"p":2.7},{"t":491.95,"v":5.8,"n":4.0,"p":3.2},
{"t":492.0,"v":5.4,"n":4.0,"p":2.2},{"t":492.05,"v":5.0,"n":3.9,"p":3.2},{"t":492.1,"v":4.6,"n":4.6,"p":3.2},{"t":492.15,"v":5.7,"n":4.4,"p":2.6},{"t":492.2,"v":6.1,"n":3.7,"p":2.5},{"t":492.25,"v":4.6,"n":4.0,"p":3.4},{"t":492.3,"v":4.9,"n":4.4,"p":3.7},{"t":492.35,"v":5.3,"n":4.6,"p":2.2},{"t":492.4,"v":5.7,"n":4.1,"p":2.0},{"t":492.45,"v":4.8,"n":3.8,"p":3.0},{"t":492.5,"v":4.4,"n":4.7,"p":2.9},{"t":492.55,"v":5.9,"n":4.3,"p":2.3},{"t":492.6,"v":5.6,"n":3.8,"p":2.3},{"t":492.65,"v":5.1,"n":4.0,"p":3.2},{"t":492.7,"v":5.1,"n":4.2,"p":3.3},{"t":492.75,"v":5.5,"n":4.4,"p":1.9},{"t":492.8,"v":5.9,"n":3.7,"p":2.5},{"t":492.85,"v":4.5,"n":3.9,"p":2.8},{"t":492.9,"v":4.7,"n":4.4,"p":3.2},{"t":492.95,"v":5.6,"n":4.5,"p":2.3},
{"t":493.0,"v":4.5,"n":3.6,"p":3.2},{"t":493.05,"v":5.8,"n":4.1,"p":2.2},{"t":493.1,"v":5.5,"n":4.3,"p":2.1},{"t":493.15,"v":4.9,"n":3.7,"p":3.0},{"t":493.2,"v":5.0,"n":3.9,"p":2.7},{"t":493.25,"v":5.4,"n":4.4,"p":1.9},{"t":493.3,"v":6.0,"n":4.5,"p":1.7},{"t":493.35,"v":4.5,"n":3.9,"p":2.7},{"t":493.4,"v":4.7,"n":3.7,"p":3.0},{"t":493.45,"v":5.6,"n":4.2,"p":1.9},{"t":493.5,"v":5.8,"n":4.2,"p":1.8},{"t":493.55,"v":4.7,"n":3.6,"p":3.1},{"t":493.6,"v":4.8,"n":3.5,"p":3.2},{"t":493.65,"v":6.0,"n":4.3,"p":2.1},{"t":493.7,"v":6.2,"n":4.4,"p":2.1}
],
"ann": [
{"k":"P=11W","tx":471.3,"ty":11.65,"x0":475.0,"y0":11.58,"x1":478.72,"y1":10.86},
{"k":"N=80 t/mn","tx":471.07,"ty":2.88,"x0":474.89,"y0":3.16,"x1":478.49,"y1":8.07},
{"k":"V=6m/s","tx":483.76,"ty":1.44,"x0":483.76,"y0":1.95,"x1":478.62,"y1":6.2}
]
},
"layer": [
{
"data": {"name": "s"},
"transform": [{"fold": ["v", "n", "p"], "as": ["k", "val"]}],
"mark": {"type": "line", "strokeWidth": 1, "clip": true},
"encoding": {
"x": {"field": "t", "type": "quantitative", "scale": {"domain": [465, 493.7], "nice": false, "zero": false},
 "axis": {"orient": "bottom", "title": "temps (s)", "values": [470, 475, 480, 485, 490], "domain": false, "grid": false, "tickSize": -9, "tickColor": "black", "labelFont": "Liberation Sans", "labelFontSize": 25, "labelColor": "black", "labelPadding": 11, "titleFont": "Liberation Sans", "titleFontSize": 25, "titleFontWeight": "normal", "titleColor": "black", "titlePadding": 15}},
"y": {"field": "val", "type": "quantitative", "scale": {"domain": [-1, 13.5], "nice": false, "zero": false},
 "axis": {"orient": "left", "title": null, "values": [0, 2, 4, 6, 8, 10, 12], "domain": false, "grid": false, "tickSize": -9, "tickColor": "black", "labelFont": "Liberation Sans", "labelFontSize": 25, "labelColor": "black", "labelPadding": 6}},
"color": {"field": "k", "type": "nominal", "scale": {"domain": ["v", "n", "p"], "range": ["#0000ff", "#ff0000", "#00ff00"]},
 "legend": {"title": null, "orient": "none", "legendX": 609, "legendY": 14, "direction": "vertical", "strokeColor": "black", "fillColor": "white", "padding": 10, "labelFont": "Liberation Sans", "labelFontSize": 26, "labelColor": "black", "labelLimit": 400, "labelExpr": "datum.value == 'v' ? 'V(m/s)' : datum.value == 'n' ? 'N/10 (t/mn)' : 'P (W)'", "symbolType": "M-1,0H25", "symbolSize": 36, "symbolStrokeWidth": 1.5, "symbolOffset": -3, "labelOffset": 68, "rowPadding": 11, "cornerRadius": 0}}
}
},
{
"data": {"name": "ann"},
"mark": {"type": "point", "opacity": 0},
"encoding": {
"x": {"field": "tx", "type": "quantitative", "scale": {"domain": [465, 493.7], "nice": false, "zero": false},
 "axis": {"orient": "top", "title": null, "labels": false, "values": [470, 475, 480, 485, 490], "domain": false, "grid": false, "tickSize": -9, "tickColor": "black"}},
"y": {"field": "ty", "type": "quantitative", "scale": {"domain": [-1, 13.5], "nice": false, "zero": false},
 "axis": {"orient": "right", "title": null, "labels": false, "values": [0, 2, 4, 6, 8, 10, 12], "domain": false, "grid": false, "tickSize": -9, "tickColor": "black"}}
}
},
{
"data": {"name": "ann"},
"mark": {"type": "rule", "color": "black", "strokeWidth": 1},
"encoding": {
"x": {"field": "x0", "type": "quantitative", "scale": {"domain": [465, 493.7], "nice": false, "zero": false}, "axis": null},
"y": {"field": "y0", "type": "quantitative", "scale": {"domain": [-1, 13.5], "nice": false, "zero": false}, "axis": null},
"x2": {"field": "x1"},
"y2": {"field": "y1"}
}
},
{
"data": {"name": "ann"},
"transform": [{"filter": "datum.k == 'P=11W'"}],
"mark": {"type": "point", "shape": "M0,0L-1,-0.35L-0.7,0L-1,0.35Z", "filled": true, "color": "black", "opacity": 1, "size": 3136, "angle": 16.7},
"encoding": {
"x": {"field": "x1", "type": "quantitative", "scale": {"domain": [465, 493.7], "nice": false, "zero": false}, "axis": null},
"y": {"field": "y1", "type": "quantitative", "scale": {"domain": [-1, 13.5], "nice": false, "zero": false}, "axis": null}
}
},
{
"data": {"name": "ann"},
"transform": [{"filter": "datum.k == 'N=80 t/mn'"}],
"mark": {"type": "point", "shape": "M0,0L-1,-0.35L-0.7,0L-1,0.35Z", "filled": true, "color": "black", "opacity": 1, "size": 3136, "angle": 295.3},
"encoding": {
"x": {"field": "x1", "type": "quantitative", "scale": {"domain": [465, 493.7], "nice": false, "zero": false}, "axis": null},
"y": {"field": "y1", "type": "quantitative", "scale": {"domain": [-1, 13.5], "nice": false, "zero": false}, "axis": null}
}
},
{
"data": {"name": "ann"},
"transform": [{"filter": "datum.k == 'V=6m/s'"}],
"mark": {"type": "point", "shape": "M0,0L-1,-0.35L-0.7,0L-1,0.35Z", "filled": true, "color": "black", "opacity": 1, "size": 3136, "angle": 232},
"encoding": {
"x": {"field": "x1", "type": "quantitative", "scale": {"domain": [465, 493.7], "nice": false, "zero": false}, "axis": null},
"y": {"field": "y1", "type": "quantitative", "scale": {"domain": [-1, 13.5], "nice": false, "zero": false}, "axis": null}
}
},
{
"data": {"name": "ann"},
"mark": {"type": "text", "align": "left", "baseline": "middle", "font": "Liberation Sans", "fontSize": 26, "color": "black"},
"encoding": {
"x": {"field": "tx", "type": "quantitative", "scale": {"domain": [465, 493.7], "nice": false, "zero": false}, "axis": null},
"y": {"field": "ty", "type": "quantitative", "scale": {"domain": [-1, 13.5], "nice": false, "zero": false}, "axis": null},
"text": {"field": "k", "type": "nominal"}
}
}
]
}
